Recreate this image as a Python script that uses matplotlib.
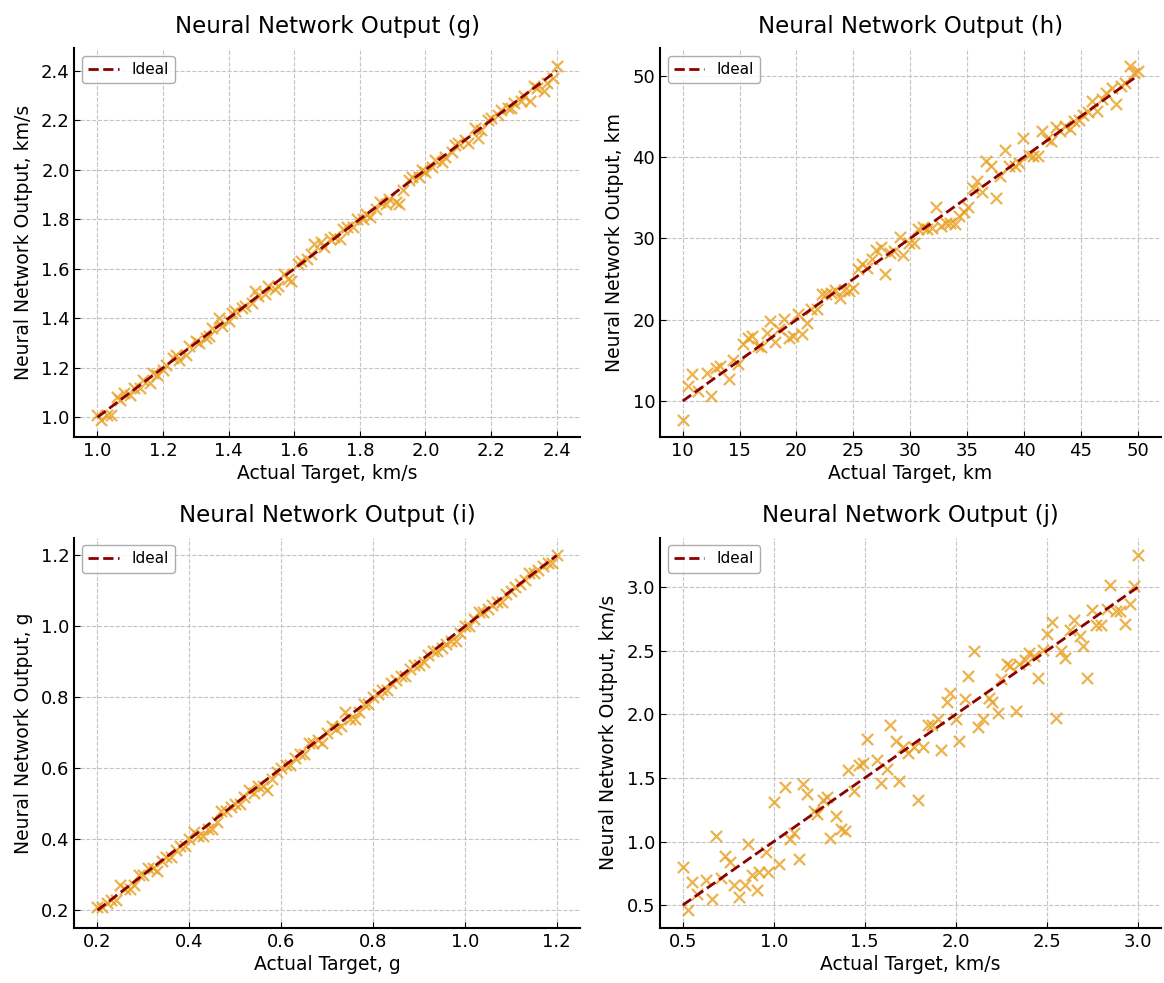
import numpy as np
import matplotlib.pyplot as plt

# Panel (g): km/s
g_actual = [1.00, 1.01, 1.03, 1.04, 1.06, 1.07, 1.08, 1.10, 1.11, 1.13,
            1.14, 1.16, 1.17, 1.18, 1.20, 1.21, 1.23, 1.24, 1.25, 1.27,
            1.28, 1.30, 1.31, 1.33, 1.34, 1.35, 1.37, 1.38, 1.40, 1.41,
            1.42, 1.44, 1.45, 1.47, 1.48, 1.49, 1.51, 1.52, 1.54, 1.55,
            1.57, 1.58, 1.59, 1.61, 1.62, 1.64, 1.65, 1.66, 1.68, 1.69,
            1.71, 1.72, 1.74, 1.75, 1.76, 1.78, 1.79, 1.81, 1.82, 1.83,
            1.85, 1.86, 1.88, 1.89, 1.91, 1.92, 1.93, 1.95, 1.96, 1.98,
            1.99, 2.00, 2.02, 2.03, 2.05, 2.06, 2.08, 2.09, 2.10, 2.12,
            2.13, 2.15, 2.16, 2.17, 2.19, 2.20, 2.22, 2.23, 2.25, 2.26,
            2.27, 2.29, 2.30, 2.32, 2.33, 2.34, 2.36, 2.37, 2.39, 2.40]
g_output = [1.01, 0.99, 1.01, 1.01, 1.08, 1.07, 1.10, 1.09, 1.12, 1.12,
            1.15, 1.14, 1.18, 1.17, 1.19, 1.21, 1.24, 1.25, 1.23, 1.25,
            1.29, 1.31, 1.30, 1.32, 1.33, 1.36, 1.40, 1.37, 1.39, 1.42,
            1.43, 1.44, 1.45, 1.46, 1.51, 1.49, 1.50, 1.53, 1.52, 1.53,
            1.58, 1.56, 1.55, 1.62, 1.63, 1.64, 1.66, 1.70, 1.71, 1.69,
            1.72, 1.73, 1.72, 1.76, 1.77, 1.77, 1.80, 1.80, 1.82, 1.81,
            1.84, 1.87, 1.86, 1.88, 1.87, 1.86, 1.92, 1.96, 1.97, 1.97,
            2.00, 1.99, 2.01, 2.04, 2.03, 2.05, 2.07, 2.10, 2.11, 2.12,
            2.11, 2.17, 2.13, 2.16, 2.20, 2.21, 2.22, 2.24, 2.25, 2.25,
            2.27, 2.28, 2.30, 2.28, 2.34, 2.33, 2.32, 2.35, 2.37, 2.42]

# Panel (h): km
h_actual = [10.0, 10.5, 10.8, 11.3, 12.1, 12.5, 12.9, 13.3, 14.1, 14.4,
            14.9, 15.3, 15.7, 16.1, 16.6, 16.9, 17.4, 17.7, 18.1, 18.5,
            18.9, 19.3, 19.7, 20.1, 20.5, 20.9, 21.3, 21.8, 22.2, 22.6,
            23.0, 23.4, 23.8, 24.2, 24.6, 25.0, 25.4, 25.8, 26.2, 26.6,
            27.0, 27.4, 27.8, 28.2, 28.6, 29.1, 29.4, 29.9, 30.3, 30.7,
            31.1, 31.5, 31.9, 32.3, 32.7, 33.1, 33.5, 33.9, 34.3, 34.7,
            35.1, 35.5, 35.9, 36.3, 36.7, 37.1, 37.5, 37.9, 38.3, 38.7,
            39.2, 39.6, 39.9, 40.4, 40.8, 41.2, 41.6, 42.0, 42.4, 42.8,
            43.2, 43.6, 44.0, 44.4, 44.8, 45.2, 45.6, 46.0, 46.4, 46.9,
            47.2, 47.7, 48.1, 48.5, 48.9, 49.3, 49.7, 50.0]
h_output = [7.7, 11.8, 13.3, 11.2, 13.4, 10.6, 14.1, 14.3, 12.7, 15.1,
            14.5, 17.0, 17.8, 18.0, 16.8, 16.6, 18.4, 19.8, 17.2, 18.8,
            20.1, 17.8, 18.0, 20.7, 18.2, 19.6, 21.3, 21.3, 23.1, 23.1,
            23.3, 23.7, 22.7, 23.7, 23.5, 23.9, 26.2, 26.8, 26.4, 27.4,
            28.6, 28.9, 25.6, 28.2, 28.4, 30.2, 28.0, 29.4, 29.4, 31.1,
            31.4, 31.1, 31.3, 33.8, 31.5, 31.9, 31.9, 31.7, 32.7, 33.2,
            33.8, 36.2, 37.0, 35.7, 39.5, 38.9, 34.9, 37.6, 40.9, 38.9,
            38.9, 39.3, 42.3, 40.3, 40.1, 40.1, 43.2, 42.2, 42.0, 43.7,
            43.2, 43.8, 43.5, 44.4, 44.5, 45.2, 45.5, 46.9, 45.7, 47.1,
            47.9, 48.5, 46.5, 48.7, 49.1, 51.2, 50.3, 50.6]

# Panel (i): g
i_actual = [0.20, 0.21, 0.22, 0.23, 0.24, 0.25, 0.26, 0.27, 0.28, 0.29,
            0.30, 0.31, 0.32, 0.33, 0.34, 0.35, 0.36, 0.37, 0.38, 0.39,
            0.40, 0.41, 0.42, 0.43, 0.44, 0.45, 0.46, 0.47, 0.48, 0.49,
            0.50, 0.51, 0.52, 0.53, 0.54, 0.55, 0.56, 0.57, 0.58, 0.59,
            0.60, 0.61, 0.62, 0.63, 0.64, 0.65, 0.66, 0.67, 0.68, 0.69,
            0.70, 0.71, 0.72, 0.73, 0.74, 0.75, 0.76, 0.77, 0.78, 0.79,
            0.80, 0.81, 0.82, 0.83, 0.84, 0.85, 0.86, 0.87, 0.88, 0.89,
            0.90, 0.91, 0.92, 0.93, 0.94, 0.95, 0.96, 0.97, 0.98, 0.99,
            1.00, 1.01, 1.02, 1.03, 1.04, 1.05, 1.06, 1.07, 1.08, 1.09,
            1.10, 1.11, 1.12, 1.13, 1.14, 1.15, 1.16, 1.17, 1.18, 1.19,
            1.20]
i_output = [0.21, 0.21, 0.22, 0.23, 0.23, 0.27, 0.26, 0.26, 0.27, 0.30,
            0.30, 0.32, 0.32, 0.31, 0.34, 0.35, 0.35, 0.37, 0.38, 0.38,
            0.40, 0.42, 0.41, 0.41, 0.43, 0.43, 0.45, 0.48, 0.48, 0.49,
            0.50, 0.50, 0.52, 0.54, 0.53, 0.55, 0.55, 0.54, 0.57, 0.59,
            0.60, 0.61, 0.61, 0.63, 0.64, 0.64, 0.67, 0.67, 0.68, 0.67,
            0.70, 0.72, 0.71, 0.72, 0.76, 0.74, 0.74, 0.76, 0.78, 0.78,
            0.80, 0.81, 0.82, 0.82, 0.84, 0.85, 0.86, 0.86, 0.88, 0.89,
            0.89, 0.90, 0.92, 0.93, 0.93, 0.94, 0.95, 0.96, 0.96, 0.98,
            1.00, 1.00, 1.02, 1.04, 1.04, 1.05, 1.06, 1.07, 1.07, 1.09,
            1.10, 1.11, 1.12, 1.13, 1.15, 1.15, 1.16, 1.17, 1.18, 1.18,
            1.20]

# Panel (j): km/s
j_actual = [0.50, 0.53, 0.55, 0.58, 0.63, 0.66, 0.68, 0.71, 0.73, 0.76,
            0.78, 0.81, 0.84, 0.86, 0.88, 0.91, 0.92, 0.96, 0.97, 1.00,
            1.03, 1.06, 1.09, 1.11, 1.14, 1.16, 1.18, 1.22, 1.24, 1.27,
            1.29, 1.31, 1.34, 1.37, 1.39, 1.41, 1.44, 1.47, 1.49, 1.51,
            1.57, 1.59, 1.62, 1.64, 1.67, 1.69, 1.71, 1.74, 1.77, 1.79,
            1.82, 1.85, 1.87, 1.90, 1.92, 1.95, 1.97, 2.00, 2.02, 2.05,
            2.07, 2.10, 2.12, 2.15, 2.18, 2.20, 2.23, 2.25, 2.28, 2.30,
            2.33, 2.35, 2.38, 2.40, 2.43, 2.45, 2.48, 2.50, 2.53, 2.55,
            2.58, 2.60, 2.63, 2.65, 2.68, 2.70, 2.72, 2.75, 2.77, 2.80,
            2.83, 2.85, 2.88, 2.90, 2.93, 2.96, 2.98, 3.00]
j_output = [0.80, 0.46, 0.68, 0.59, 0.70, 0.55, 1.04, 0.71, 0.89, 0.84,
            0.66, 0.56, 0.66, 0.98, 0.74, 0.62, 0.76, 0.92, 0.76, 1.31,
            0.82, 1.43, 1.02, 1.07, 0.86, 1.45, 1.37, 1.24, 1.22, 1.33,
            1.35, 1.03, 1.20, 1.10, 1.08, 1.56, 1.40, 1.60, 1.62, 1.81,
            1.64, 1.46, 1.57, 1.92, 1.79, 1.48, 1.74, 1.70, 1.74, 1.33,
            1.74, 1.92, 1.92, 1.96, 1.72, 2.10, 2.17, 1.96, 1.79, 2.12,
            2.30, 2.50, 1.90, 1.96, 2.13, 2.10, 2.01, 2.28, 2.40, 2.38,
            2.03, 2.40, 2.43, 2.48, 2.46, 2.29, 2.51, 2.63, 2.73, 1.97,
            2.50, 2.44, 2.66, 2.74, 2.62, 2.54, 2.29, 2.82, 2.70, 2.70,
            2.83, 3.02, 2.81, 2.81, 2.71, 2.87, 3.01, 3.25]

panels = [
    ("g", g_actual, g_output, "km/s"),
    ("h", h_actual, h_output, "km"),
    ("i", i_actual, i_output, "g"),
    ("j", j_actual, j_output, "km/s"),
]

plt.rcParams["font.family"] = "DejaVu Sans"
plt.rcParams["xtick.direction"] = "in"
plt.rcParams["ytick.direction"] = "in"

fig = plt.figure(figsize=(11.64, 9.83), dpi=100)
positions = [
    [0.064, 0.555, 0.434, 0.396],
    [0.567, 0.555, 0.430, 0.396],
    [0.064, 0.056, 0.434, 0.397],
    [0.567, 0.056, 0.430, 0.397],
]

for (tag, actual, output, unit), pos in zip(panels, positions):
    ax = fig.add_axes(pos)
    actual = np.array(actual)
    output = np.array(output)
    ax.scatter(actual, output, marker="x", color="#E8A020", alpha=0.8,
               s=65, linewidths=1.6, zorder=2)
    ax.plot([actual.min(), actual.max()], [actual.min(), actual.max()],
            "--", color="#8B0000", linewidth=2, label="Ideal", zorder=3)
    ax.set_title(f"Neural Network Output ({tag})", fontsize=16.5, pad=11)
    ax.set_xlabel(f"Actual Target, {unit}", fontsize=13.5, labelpad=3)
    ax.set_ylabel(f"Neural Network Output, {unit}", fontsize=13.5, labelpad=6)
    ax.tick_params(labelsize=13, length=4)
    ax.grid(True, linestyle="--", color="#c4c4c4", linewidth=0.8)
    ax.spines["top"].set_visible(False)
    ax.spines["right"].set_visible(False)
    ax.spines["left"].set_linewidth(1.5)
    ax.spines["bottom"].set_linewidth(1.5)
    ax.legend(loc="upper left", fontsize=11, fancybox=True, edgecolor="#999999")

fig.savefig("out.png", dpi=100)
